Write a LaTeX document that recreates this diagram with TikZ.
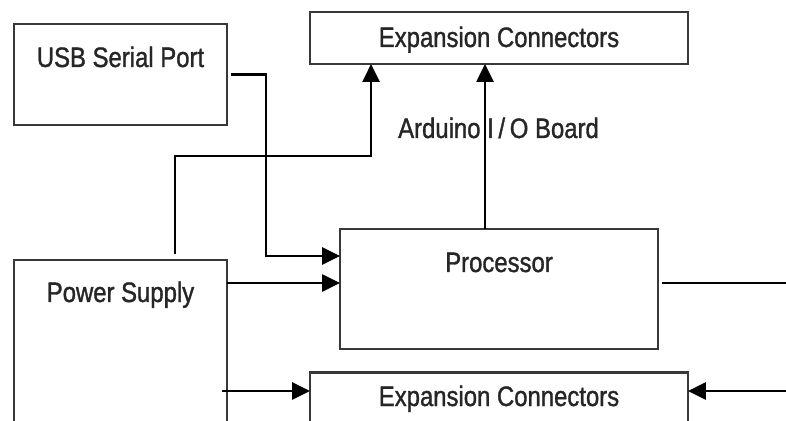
\documentclass[tikz,border=0pt]{standalone}
\usepackage{fontspec}
\setmainfont[FakeStretch=0.85,FakeBold=1.2]{Liberation Sans}
\usetikzlibrary{arrows.meta,calc,positioning}

\tikzset{
  blk/.style={draw=black!78,line width=1.2pt,inner sep=0pt,outer sep=0pt},
  lbl/.style={anchor=base,text=black!85,inner sep=0pt,font=\fontsize{16}{19}\selectfont},
  arr/.style={line width=1.5pt,-{Triangle[length=3.6mm,width=3.4mm]}}
}

\begin{document}
\begin{tikzpicture}[x=0.02cm,y=-0.02cm]
  \clip (0,0) rectangle (786,421);
  \fill[white] (0,0) rectangle (786,421);
  % ---------- boxes
  \node[blk,minimum width=4.26cm,minimum height=2.02cm] (usb) at (120.5,74.5) {};
  \node[blk,minimum width=7.56cm,minimum height=1.04cm] (expT) at (499,38) {};
  \node[blk,minimum width=6.36cm,minimum height=2.40cm] (proc) at (499,289) {};
  \node[blk,minimum width=4.26cm,minimum height=4.00cm] (power) at (120.5,360) {};
  \node[blk,minimum width=7.56cm,minimum height=1.34cm] (expB) at (499,406) {};
  % ---------- texts
  \node[lbl] (usbT) at (120.5,67) {USB Serial Port};
  \node[lbl] (expTT) at (499,47) {Expansion Connectors};
  \node[lbl] (board) at (498.5,138) {Arduino I\,/\,O Board};
  \node[lbl] (procT) at (499,272) {Processor};
  \node[lbl] (powerT) at (120.5,302) {Power Supply};
  \node[lbl] (expBT) at (499,406) {Expansion Connectors};
  % ---------- free ends at the right rim
  \coordinate (rimA) at (790,283);
  \coordinate (rimB) at (790,391);
  % ---------- connectors
  \draw[arr] ($(usb.east)+(4,0)$) -- ++(35,0) |- ($(proc.west)+(0,-33)$);
  \draw[arr] ($(power.north west)+(161,-6)$) -- ++(0,-98) -| ($(expT.south west)+(61,0)$);
  \draw[arr] ($(power.north east)+(0,23)$) coordinate (p1) -- (p1 -| proc.west);
  \draw[arr] ($(proc.north)+(-14,0)$) coordinate (p2) -- (p2 |- expT.south);
  \draw[line width=1.5pt] ($(proc.east)+(4,-6)$) -- (rimA);
  \draw[arr] ($(expB.west)+(0,-15)$) coordinate (p3) ++(-88,0) -- (p3);
  \draw[arr] (rimB) -- ($(expB.east)+(0,-15)$);
\end{tikzpicture}
\end{document}
